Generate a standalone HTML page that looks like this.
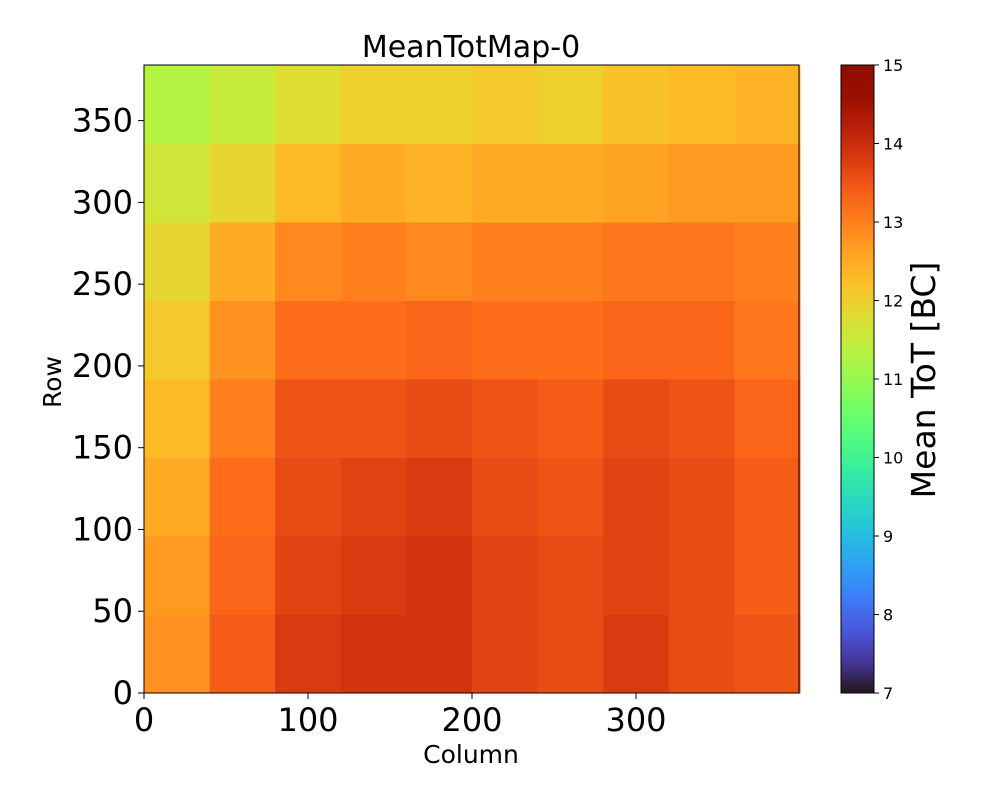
<!DOCTYPE html>
<html><head><meta charset="utf-8"><style>
body{margin:0;background:#fff;}
svg text{font-family:"DejaVu Sans","Liberation Sans",sans-serif;fill:#000;}
</style></head><body>
<svg id="chart" width="1000" height="800" viewBox="0 0 1000 800">
<defs><linearGradient id="cbg" x1="0" y1="1" x2="0" y2="0"></linearGradient></defs>
<text x="471" y="57" font-size="30" text-anchor="middle">MeanTotMap-0</text>
<g id="cells"></g>
<rect x="144" y="65" width="655" height="628" fill="none" stroke="#000" stroke-width="1"/>
<g id="xaxis"></g>
<g id="yaxis"></g>
<text x="471" y="763" font-size="25" text-anchor="middle">Column</text>
<text transform="translate(61,382) rotate(-90)" font-size="25" text-anchor="middle">Row</text>
<rect x="841" y="65" width="33" height="628" fill="url(#cbg)" stroke="#000" stroke-width="1"/>
<g id="cbaxis"></g>
<text transform="translate(935,380) rotate(-90)" font-size="33" text-anchor="middle">Mean ToT [BC]</text>
</svg>
<script>
const colEdges = [0,40,80,120,160,200,240,280,320,360,400];
const rowEdges = [0,48,96,144,192,240,288,336,384];
// rows from bottom (row 0) to top
const row0 = [12.8,13.4,13.8,13.9,13.9,13.7,13.6,13.8,13.6,13.5];
const row1 = [12.7,13.3,13.7,13.8,13.9,13.7,13.6,13.7,13.6,13.4];
const row2 = [12.5,13.2,13.6,13.7,13.8,13.6,13.5,13.7,13.6,13.4];
const row3 = [12.3,13.0,13.5,13.5,13.6,13.5,13.4,13.6,13.5,13.3];
const row4 = [12.1,12.8,13.2,13.2,13.3,13.2,13.2,13.3,13.3,13.1];
const row5 = [11.9,12.5,12.9,13.0,12.9,13.0,13.0,13.1,13.1,13.0];
const row6 = [11.6,11.9,12.3,12.5,12.4,12.5,12.5,12.6,12.7,12.7];
const row7 = [11.3,11.5,11.8,12.0,12.0,12.1,12.0,12.2,12.3,12.4];
const xTicks = [0,100,200,300];
const yTicks = [0,50,100,150,200,250,300,350];
const cbTicks = [7,8,9,10,11,12,13,14,15];

const rows=[row0,row1,row2,row3,row4,row5,row6,row7];
const NS="http://www.w3.org/2000/svg";
const X0=144,X1=800,Y0=693,Y1=65,VMIN=7,VMAX=15;
function xs(c){return X0+(c/400)*(X1-X0);}
function ys(r){return Y0-(r/384)*(Y0-Y1);}
function cs(v){return Y0-(v-VMIN)/(VMAX-VMIN)*(Y0-Y1);}
function turbo(t){
  t=Math.max(0,Math.min(1,t));
  const r=0.13572138+t*(4.61539260+t*(-42.66032258+t*(132.13108234+t*(-152.94239396+t*59.28637943))));
  const g=0.09140261+t*(2.19418839+t*(4.84296658+t*(-14.18503333+t*(4.27729857+t*2.82956604))));
  const b=0.10667330+t*(12.64194608+t*(-60.58204836+t*(110.36276771+t*(-89.90310912+t*27.34824973))));
  const f=x=>Math.round(Math.max(0,Math.min(1,x))*255);
  return `rgb(${f(r)},${f(g)},${f(b)})`;
}
function col(v){return turbo((v-VMIN)/(VMAX-VMIN));}
const cells=document.getElementById('cells');
rows.forEach((vals,ri)=>{
  vals.forEach((v,ci)=>{
    const r=document.createElementNS(NS,'rect');
    const x=xs(colEdges[ci]),x2=xs(colEdges[ci+1]),yt=ys(rowEdges[ri+1]),yb=ys(rowEdges[ri]);
    r.setAttribute('x',x);r.setAttribute('y',yt);
    r.setAttribute('width',x2-x+0.5);r.setAttribute('height',yb-yt+0.5);
    r.setAttribute('fill',col(v));
    
    
    cells.appendChild(r);
  });
});
const xa=document.getElementById('xaxis');
xTicks.forEach(t=>{
  const x=xs(t);
  const l=document.createElementNS(NS,'line');
  l.setAttribute('x1',x);l.setAttribute('x2',x);l.setAttribute('y1',693);l.setAttribute('y2',699);l.setAttribute('stroke','#000');
  
  
  xa.appendChild(l);
  const tx=document.createElementNS(NS,'text');
  tx.setAttribute('x',x);tx.setAttribute('y',731);tx.setAttribute('font-size','32');tx.setAttribute('text-anchor','middle');
  tx.textContent=t;
  
  
  xa.appendChild(tx);
});
const ya=document.getElementById('yaxis');
yTicks.forEach(t=>{
  const y=ys(t);
  const l=document.createElementNS(NS,'line');
  l.setAttribute('x1',138);l.setAttribute('x2',144);l.setAttribute('y1',y);l.setAttribute('y2',y);l.setAttribute('stroke','#000');
  
  
  ya.appendChild(l);
  const tx=document.createElementNS(NS,'text');
  tx.setAttribute('x',133);tx.setAttribute('y',y+11);tx.setAttribute('font-size','32');tx.setAttribute('text-anchor','end');
  tx.textContent=t;
  
  
  ya.appendChild(tx);
});
const grad=document.getElementById('cbg');
for(let i=0;i<=20;i++){
  const s=document.createElementNS(NS,'stop');
  s.setAttribute('offset',(i/20));
  s.setAttribute('stop-color',turbo(i/20));
  grad.appendChild(s);
}
const cb=document.getElementById('cbaxis');
cbTicks.forEach(t=>{
  const y=cs(t);
  const l=document.createElementNS(NS,'line');
  l.setAttribute('x1',874);l.setAttribute('x2',879);l.setAttribute('y1',y);l.setAttribute('y2',y);l.setAttribute('stroke','#000');
  
  
  cb.appendChild(l);
  const tx=document.createElementNS(NS,'text');
  tx.setAttribute('x',883);tx.setAttribute('y',y+6);tx.setAttribute('font-size','16');
  tx.textContent=t;
  
  
  cb.appendChild(tx);
});
</script>
</body></html>
